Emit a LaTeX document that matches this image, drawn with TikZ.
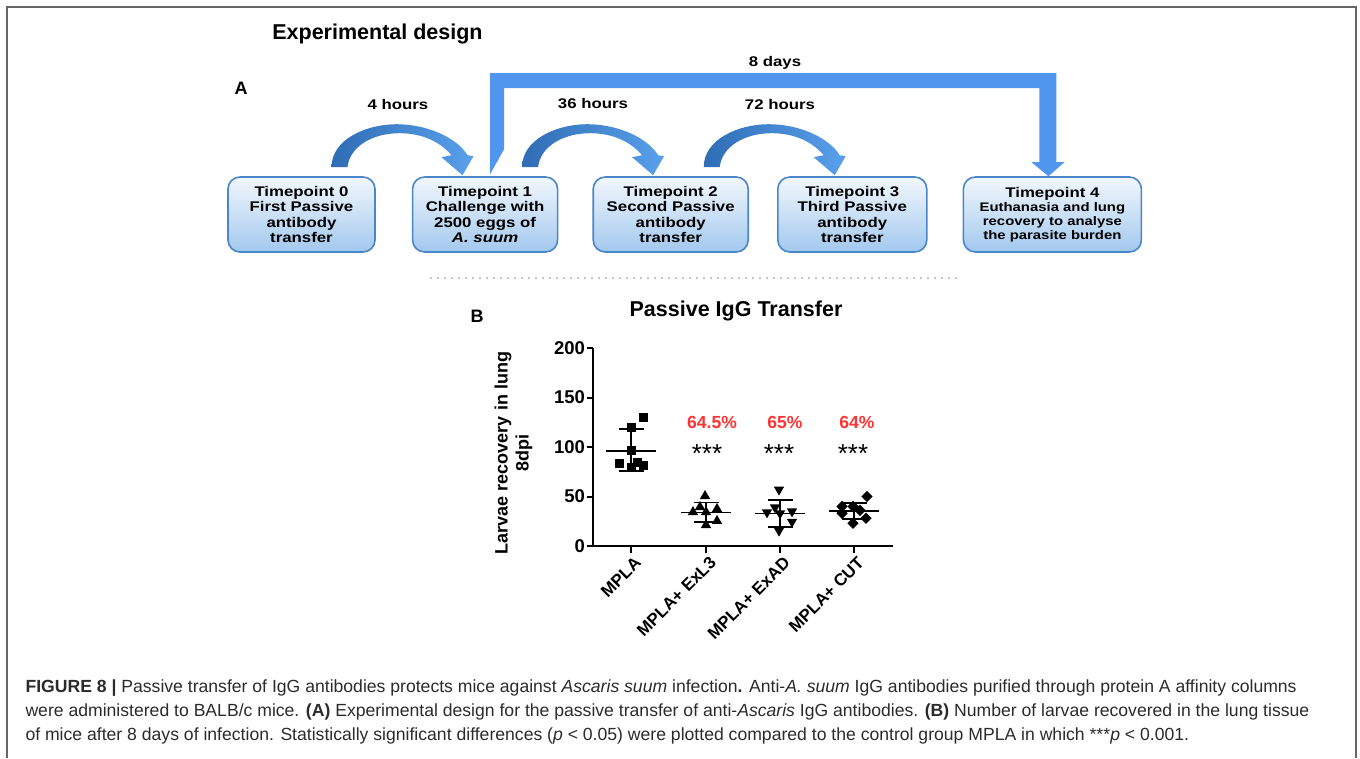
\documentclass[tikz,border=0pt]{standalone}
\usepackage{fontspec}
\setmainfont{Liberation Sans}
\newfontfamily\boxfont[FakeStretch=1.2]{Liberation Sans}
\usetikzlibrary{positioning, calc, shapes.geometric}
\definecolor{boxedge}{HTML}{4A86C8}
\definecolor{boxtop}{HTML}{F2F7FD}
\definecolor{boxbot}{HTML}{A2C8EE}
\definecolor{hopdark}{HTML}{2F6DB5}
\definecolor{hoplight}{HTML}{5AA0EC}
\definecolor{bigblue}{HTML}{5196EE}
\definecolor{pcred}{HTML}{FF3333}
\definecolor{captext}{HTML}{2B2B2B}
\tikzset{tpbox/.style={draw=boxedge, line width=1.6pt, rounded corners=12pt, top color=boxtop, bottom color=boxbot,
                       minimum height=75pt, align=center, inner sep=2pt, font=\boxfont\bfseries\fontsize{14}{15.5}\selectfont},
         lapse/.style={font=\boxfont\bfseries\fontsize{14}{16}\selectfont},
         hop/.pic={\shade[left color=hopdark, right color=hoplight] (0,0) .. controls (0,-28) and (35,-43) .. (65,-43)
                     .. controls (95,-43) and (125,-30) .. (136,-12) -- (142,-11) -- (131,8) -- (110,-10) -- (120,-12)
                     .. controls (108,-26) and (90,-34) .. (68,-34) .. controls (40,-34) and (18,-20) .. (16,0) -- cycle;},
         axis/.style={line width=2pt},
         bar/.style={line width=1.6pt},
         sqmark/.style={rectangle, fill, minimum size=9pt, inner sep=0pt},
         trimark/.style={regular polygon, regular polygon sides=3, fill, minimum size=12pt, inner sep=0pt},
         invmark/.style={trimark, shape border rotate=180},
         dmdmark/.style={diamond, fill, minimum size=11.5pt, inner sep=0pt},
         ticklab/.style={font=\bfseries\fontsize{18.5}{19}\selectfont},
         grouplab/.style={font=\bfseries\fontsize{17}{18}\selectfont, rotate=45, anchor=east, inner sep=0pt},
         pcnt/.style={text=pcred, font=\bfseries\fontsize{17.5}{18}\selectfont},
         stars/.style={font=\fontsize{26}{26}\selectfont},
        }

\begin{document}
\begin{tikzpicture}[x=1pt, y=-1pt]
        \useasboundingbox (0,0) rectangle (1360,758);
        \draw[gray!80!black, line width=2pt] (7,758) -- (7,7) -- (1356,7) -- (1356,758);

        \node[font=\bfseries\fontsize{21.5}{24}\selectfont] (title) at (377.5,34) {Experimental design};
        \node[font=\bfseries\fontsize{18}{20}\selectfont] (pa) at (241,88) {A};

        \node[tpbox, minimum width=147pt] (t0) at (301.5,214.5) {Timepoint 0\\First Passive\\antibody\\transfer};
        \node[tpbox, minimum width=145pt, right=36pt of t0] (t1) {Timepoint 1\\Challenge with\\2500 eggs of\\\textit{A. suum}};
        \node[tpbox, minimum width=155pt, right=34pt of t1] (t2) {Timepoint 2\\Second Passive\\antibody\\transfer};
        \node[tpbox, minimum width=149pt, right=28pt of t2] (t3) {Timepoint 3\\Third Passive\\antibody\\transfer};
        \node[tpbox, minimum width=178pt, right=35pt of t3, font=\boxfont\bfseries\fontsize{12.4}{14}\selectfont] (t4)
             {{\fontsize{14}{15.5}\selectfont Timepoint 4}\\Euthanasia and lung\\recovery to analyse\\the parasite burden};

        \fill[bigblue] ($(t1.north)+(5,-2)$) coordinate (bs) -- ++(0,-101) -| ($(t4.north)+(4,-14)$) -- ++(8,0)
             -- ($(t4.north)+(-4,0)$) -- ++(-17,-14) -- ++(8,0) |- ($(bs)+(14,-86)$) -- ($(bs)+(14,-25)$) -- cycle;
        \pic at ($(t0.north)+(30,-9)$) {hop};
        \pic at ($(t1.north)+(37,-9)$) {hop};
        \pic at ($(t2.north)+(33,-9)$) {hop};

        \node[lapse] (h4) at (398,104) {4 hours};
        \node[lapse] (h36) at (593,104) {36 hours};
        \node[lapse] (h72) at (780,104) {72 hours};
        \node[lapse] (d8) at (775,63) {8 days};

        \draw[gray!45, line width=1.5pt, dash pattern=on 2pt off 5pt] (430,278) -- (958,278);

        \node[font=\bfseries\fontsize{18}{20}\selectfont] (pb) at (477,316) {B};
        \node[font=\bfseries\fontsize{21.5}{24}\selectfont] (ptitle) at (736,311) {Passive IgG Transfer};
        \node[rotate=90, align=center, font=\bfseries\fontsize{18}{21}\selectfont] (ylab) at (513.5,453) {Larvae recovery in lung\\8dpi};

        \begin{scope}[shift={(593,546)}, y=0.99pt]
            \draw[axis] (0,200) -- (0,0) -- (300,0);
            \foreach \v in {0,50,100,150,200}
                \draw[axis] (0,\v) -- (-6,\v) node[left, inner sep=1pt, ticklab] (yl\v) {\v};
            \foreach \x/\lab [count=\i] in {38/MPLA, 113/MPLA+ ExL3, 187/MPLA+ ExAD, 261/MPLA+ CUT}
            {
                \draw[axis] (\x,0) -- (\x,-7);
                \node[grouplab] (xl\i) at (\x+7,-14) {\lab};
            }
            \foreach \x/\v [count=\i] in {50/130, 38/120, 38/96, 26/83, 44/84, 50/81, 38/79}
                \node[sqmark] (mpla\i) at (\x,\v) {};
            \foreach \x/\v [count=\i] in {112/50.5, 100/34.3, 107/39.4, 113/34.3, 124/37.4, 124/25.3, 113/21.2}
                \node[trimark] (exl\i) at (\x,\v) {};
            \foreach \x/\v [count=\i] in {186/57, 174/34, 182/39, 187/33, 199/35, 199/24.5, 186/15.5}
                \node[invmark] (exad\i) at (\x,\v) {};
            \foreach \x/\v [count=\i] in {274/50, 249/40, 260/40, 249/33, 267/36, 273/28, 260/23}
                \node[dmdmark] (cut\i) at (\x,\v) {};
            \foreach \x/\m/\h/\l in {38/96/118/76, 113/34/44/24.5, 187/33/46.5/19.5, 261/35.4/43.7/27.3}
                \draw[bar] (\x-25,\m) -- (\x+25,\m) (\x,\h) -- (\x,\l) (\x-12.5,\h) -- (\x+12.5,\h) (\x-12.5,\l) -- (\x+12.5,\l);
        \end{scope}

        \node[pcnt] (pc1) at (712,422) {64.5\%};
        \node[pcnt] (pc2) at (785,422) {65\%};
        \node[pcnt] (pc3) at (857,422) {64\%};
        \node[stars] (st1) at (707,454) {***};
        \node[stars] (st2) at (779,454) {***};
        \node[stars] (st3) at (853,454) {***};

        \node[anchor=west, align=left, text=captext, font=\fontsize{17.6}{24}\selectfont] (cap) at (22,712)
             {\textbf{FIGURE 8 |} Passive transfer of IgG antibodies protects mice against \textit{Ascaris suum} infection\textbf{.} Anti-\textit{A. suum} IgG antibodies purified through protein A affinity columns\\
              were administered to BALB/c mice. \textbf{(A)} Experimental design for the passive transfer of anti-\textit{Ascaris} IgG antibodies. \textbf{(B)} Number of larvae recovered in the lung tissue\\
              of mice after 8 days of infection. Statistically significant differences (\textit{p} < 0.05) were plotted compared to the control group MPLA in which ***\textit{p} < 0.001.};
    \end{tikzpicture}
\end{document}
